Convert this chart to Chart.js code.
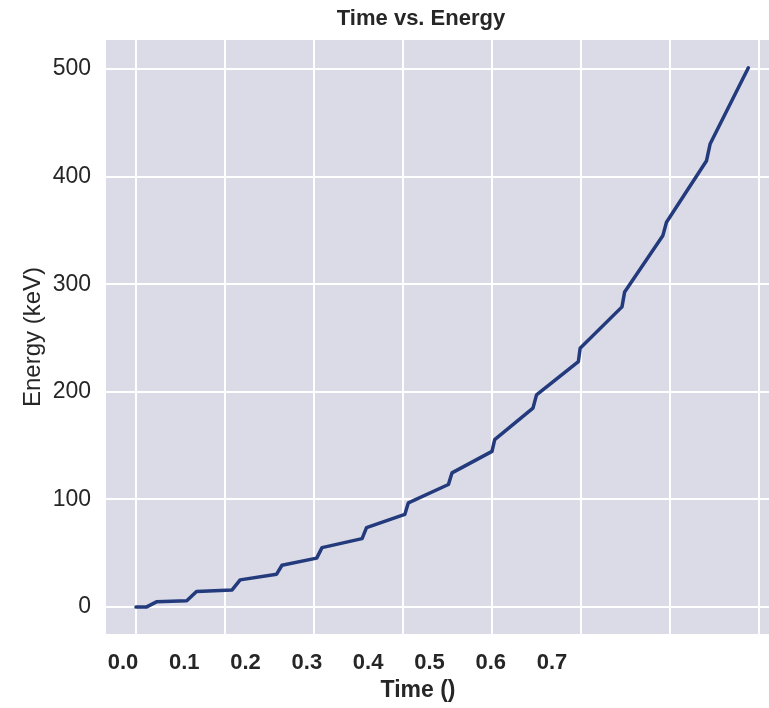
<!DOCTYPE html>
<html>
<head>
<meta charset="utf-8">
<title>Time vs. Energy</title>
<script src="https://cdn.jsdelivr.net/npm/chart.js@4/dist/chart.umd.min.js"></script>
<style>
  html, body { margin: 0; padding: 0; background: #ffffff; overflow: hidden; }
  canvas { display: block; }
</style>
</head>
<body>
<canvas id="chart" width="790" height="708"></canvas>
<script>
// Measured curve: time and deposited energy (keV)
const timeValues = [0.000, 0.012, 0.023, 0.057, 0.068, 0.108, 0.117, 0.158, 0.164, 0.203,
                    0.209, 0.254, 0.259, 0.302, 0.306, 0.351, 0.355, 0.400, 0.403, 0.446,
                    0.450, 0.497, 0.499, 0.546, 0.549, 0.592, 0.596, 0.641, 0.645, 0.688];
const energyValues = [0, 0.2, 4.9, 5.8, 14.5, 16.0, 25.3, 30.6, 38.9, 45.5,
                      55.3, 63.6, 73.8, 86.1, 96.9, 113.9, 124.7, 144.7, 155.6, 184.9,
                      197.2, 228.1, 240.5, 279.0, 292.9, 345.4, 357.7, 414.8, 430.3, 501.2];

// Axis ticks
const energyTicks = [0, 100, 200, 300, 400, 500];
const timeGridTicks = [0, 0.1, 0.2, 0.3, 0.4, 0.5, 0.6, 0.7];
const timeLabelTicks = [0, 0.1, 0.2, 0.3, 0.4, 0.5, 0.6, 0.7];
const timeTickLabels = ['0.0', '0.1', '0.2', '0.3', '0.4', '0.5', '0.6', '0.7'];

const FONT = "'Liberation Sans', Arial, Helvetica, sans-serif";
const TEXT = '#262626';

// Fills the plotting area before grid lines and data are drawn
const plotBackground = {
  id: 'plotBackground',
  beforeDraw(chart, args, opts) {
    const { ctx, chartArea: a } = chart;
    ctx.save();
    ctx.fillStyle = opts.color;
    ctx.fillRect(a.left, a.top, a.right - a.left, a.bottom - a.top);
    ctx.restore();
  }
};

// Chart title and the time-axis caption
const chartTexts = {
  id: 'chartTexts',
  afterDraw(chart, args, opts) {
    const ctx = chart.ctx;
    const a = chart.chartArea;
    ctx.save();
    ctx.fillStyle = TEXT;
    ctx.textAlign = 'center';
    ctx.textBaseline = 'middle';
    ctx.font = `bold 22px ${FONT}`;
    ctx.fillText(opts.title, a.left + 315, 19);
    ctx.font = `bold 23px ${FONT}`;
    ctx.fillText(opts.xCaption, a.left + 312, 691);
    ctx.restore();
  }
};

const points = timeValues.map((t, i) => ({ x: t, y: energyValues[i] }));

new Chart(document.getElementById('chart'), {
  type: 'line',
  data: {
    datasets: [{
      data: points,
      xAxisID: 'x',
      yAxisID: 'y',
      borderColor: '#233a7c',
      borderWidth: 3.5,
      borderJoinStyle: 'round',
      borderCapStyle: 'round',
      pointRadius: 0,
      tension: 0,
      fill: false
    }]
  },
  options: {
    responsive: false,
    animation: false,
    events: [],
    layout: { padding: { top: 40, right: 12, left: 0, bottom: 0 } },
    plugins: {
      legend: { display: false },
      tooltip: { enabled: false },
      title: { display: false },
      plotBackground: { color: '#dbdbe7' },
      chartTexts: { title: 'Time vs. Energy', xCaption: 'Time ()' }
    },
    scales: {
      x: {
        type: 'linear',
        position: 'bottom',
        weight: 0,
        min: -0.0337,
        max: 0.7213,
        afterBuildTicks: s => { s.ticks = timeGridTicks.map(v => ({ value: v })); },
        afterFit: s => { s.height = 0; },
        ticks: { display: false },
        grid: { color: '#ffffff', lineWidth: 2, drawTicks: false },
        border: { display: false }
      },
      xl: {
        type: 'linear',
        position: 'bottom',
        weight: 1,
        min: -0.0277,
        max: 1.0687,
        afterBuildTicks: s => { s.ticks = timeLabelTicks.map(v => ({ value: v })); },
        afterFit: s => { s.height = 74; },
        grid: { display: false, drawTicks: false },
        border: { display: false },
        ticks: {
          padding: 16,
          autoSkip: false,
          maxRotation: 0,
          color: TEXT,
          font: { family: FONT, size: 22, weight: 'bold' },
          callback: (v, i) => timeTickLabels[i]
        }
      },
      y: {
        type: 'linear',
        position: 'left',
        min: -25,
        max: 527,
        afterBuildTicks: s => { s.ticks = energyTicks.map(v => ({ value: v })); },
        afterFit: s => { s.width = 106; },
        grid: { color: '#ffffff', lineWidth: 2, drawTicks: false },
        border: { display: false },
        ticks: {
          padding: 15,
          color: TEXT,
          font: { family: FONT, size: 23 },
          callback: v => String(v)
        },
        title: {
          display: true,
          text: 'Energy (keV)',
          color: TEXT,
          font: { family: FONT, size: 24 },
          padding: { top: 19, bottom: 0 }
        }
      }
    }
  },
  plugins: [plotBackground, chartTexts]
});
</script>
</body>
</html>
